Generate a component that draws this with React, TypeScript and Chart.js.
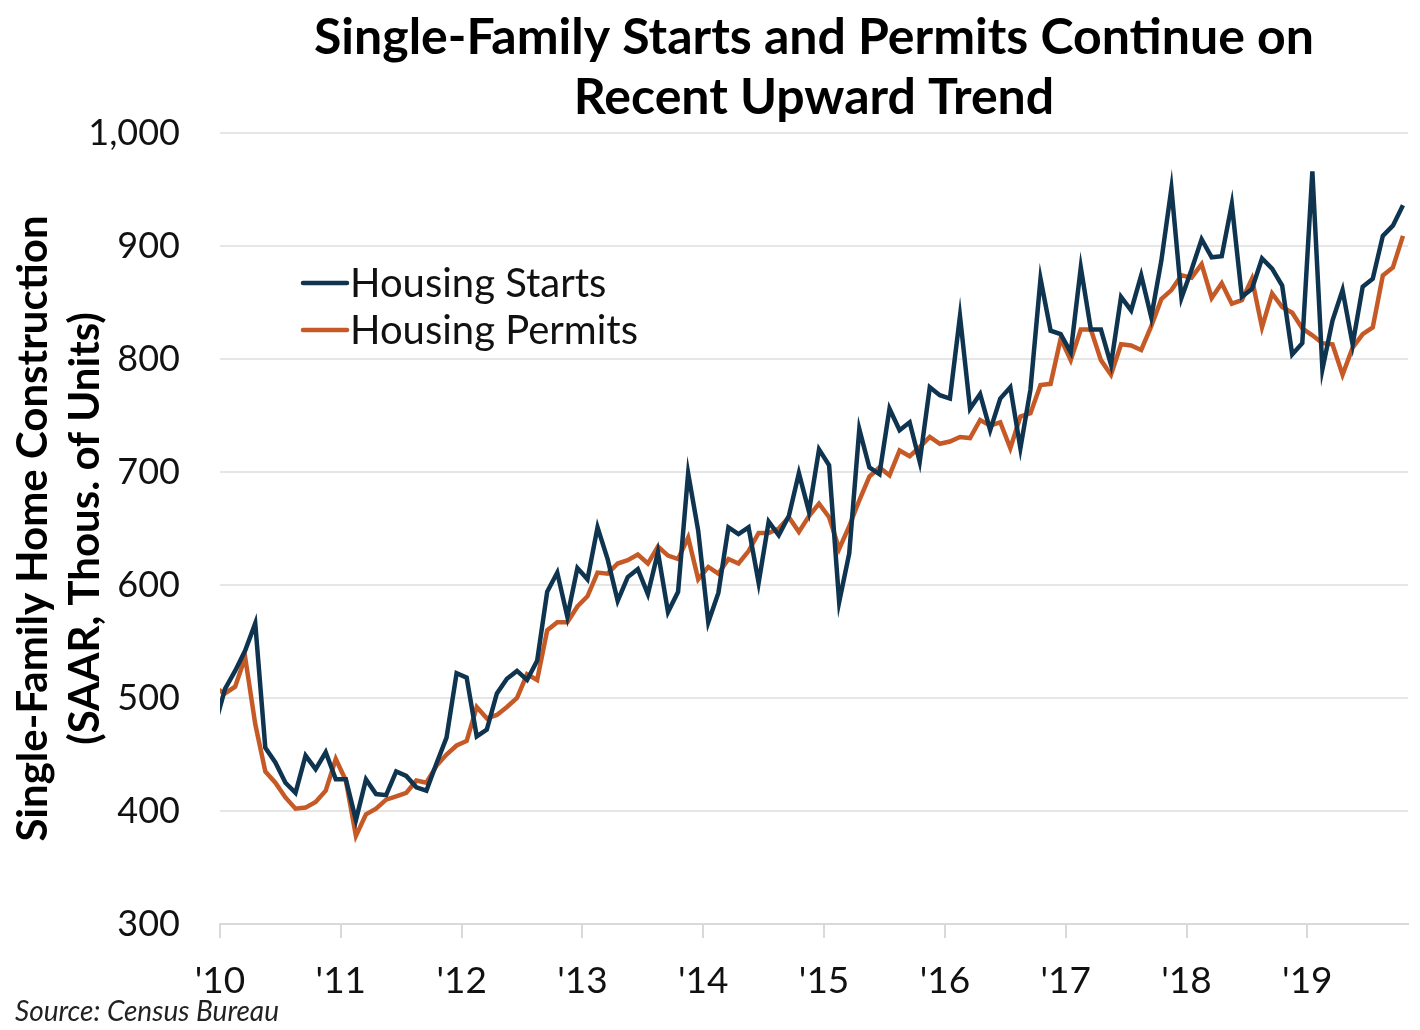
import { useEffect, useRef } from 'react';
import { Chart, registerables } from 'chart.js';

Chart.register(...registerables);

// Monthly data, Dec 2009 .. Oct 2019 (thousands of units, SAAR)
const firstMonthOffset = -1; // first value is Dec 2009 (month offset from Jan 2010)

const housingStarts = [
  476,
  508, 524, 542, 566, 456, 443, 425, 416, 449, 437, 452, 428,
  428, 392, 428, 415, 414, 435, 431, 421, 418, 442, 465, 522,
  518, 466, 472, 504, 517, 524, 516, 533, 594, 611, 572, 615,
  605, 651, 623, 586, 607, 614, 592, 629, 576, 594, 699, 648,
  567, 593, 651, 645, 651, 602, 656, 644, 661, 699, 665, 720,
  706, 585, 628, 738, 704, 698, 756, 737, 744, 709, 775, 768,
  765, 838, 756, 769, 737, 765, 775, 721, 773, 871, 825, 822,
  806, 881, 826, 826, 795, 855, 843, 874, 837, 887, 951, 854,
  879, 906, 890, 891, 937, 855, 862, 889, 880, 865, 804, 814,
  966, 791, 834, 861, 813, 864, 871, 909, 918, 936,
];

const housingPermits = [
  509,
  504, 510, 536, 477, 435, 425, 412, 402, 403, 408, 418, 446,
  427, 378, 397, 402, 410, 413, 416, 427, 425, 440, 450, 458,
  462, 492, 482, 485, 492, 500, 521, 516, 560, 567, 567, 581,
  590, 611, 610, 619, 622, 627, 619, 634, 626, 623, 642, 605,
  616, 610, 623, 619, 630, 646, 646, 650, 660, 647, 661, 672,
  660, 632, 652, 675, 696, 704, 697, 719, 714, 722, 731, 725,
  727, 731, 730, 746, 741, 744, 721, 749, 752, 777, 778, 818,
  799, 826, 826, 799, 786, 813, 812, 808, 829, 853, 861, 874,
  872, 884, 854, 867, 849, 852, 871, 828, 858, 846, 841, 827,
  821, 814, 813, 786, 810, 822, 828, 874, 881, 909,
];

const yearLabels = ["'10", "'11", "'12", "'13", "'14", "'15", "'16", "'17", "'18", "'19"];
const seriesNames = ['Housing Starts', 'Housing Permits'];
const seriesColors = ['#0e3450', '#c55a27'];
const titleLines = ['Single-Family Starts and Permits Continue on', 'Recent Upward Trend'];
const yTitleLines = ['Single-Family Home Construction', '(SAAR, Thous. of Units)'];
const sourceText = 'Source: Census Bureau';

const FONT = 'Lato, "Noto Sans", sans-serif';

const toPoints = (arr: number[]) =>
  arr.map((v, k) => ({ x: k + firstMonthOffset + 0.5, y: v }));

const decorPlugin = {
  id: 'decor',
  afterDraw(chart: any) {
    const { ctx, chartArea } = chart;
    ctx.save();
    // Title
    ctx.fillStyle = '#000';
    ctx.font = `bold 50px ${FONT}`;
    ctx.textAlign = 'center';
    ctx.textBaseline = 'alphabetic';
    const cx = (chartArea.left + chartArea.right) / 2;
    ctx.fillText(titleLines[0], cx, 54);
    ctx.fillText(titleLines[1], cx, 114);
    // Legend
    ctx.font = `40px ${FONT}`;
    ctx.textAlign = 'left';
    ctx.textBaseline = 'middle';
    seriesNames.forEach((name, i) => {
      const y = chartArea.top + 150 + i * 47;
      const x0 = chartArea.left + 83;
      ctx.strokeStyle = seriesColors[i];
      ctx.lineWidth = 4.5;
      ctx.lineCap = 'round';
      ctx.beginPath();
      ctx.moveTo(x0, y);
      ctx.lineTo(x0 + 44, y);
      ctx.stroke();
      ctx.fillStyle = '#111';
      ctx.fillText(name, x0 + 47, y + 1);
    });
    // Source
    ctx.font = `italic 28px ${FONT}`;
    ctx.textBaseline = 'alphabetic';
    ctx.fillStyle = '#222';
    ctx.fillText(sourceText, 15, 1021);
    ctx.restore();
  },
};

export default function App() {
  const canvasRef = useRef<HTMLCanvasElement | null>(null);

  useEffect(() => {
    document.body.style.margin = '0';
    const canvas = canvasRef.current;
    if (!canvas) return;
    const chart = new Chart(canvas, {
      type: 'line',
      data: {
        datasets: [
          {
            label: seriesNames[0],
            data: toPoints(housingStarts),
            borderColor: seriesColors[0],
            borderWidth: 4.5,
            pointRadius: 0,
            tension: 0,
            clip: 0,
          },
          {
            label: seriesNames[1],
            data: toPoints(housingPermits),
            borderColor: seriesColors[1],
            borderWidth: 4.5,
            pointRadius: 0,
            tension: 0,
            clip: 0,
          },
        ],
      },
      options: {
        animation: false,
        responsive: false,
        devicePixelRatio: 1,
        layout: { padding: { top: 133, right: 12, left: 0, bottom: 0 } },
        plugins: {
          legend: { display: false },
          title: { display: false },
          tooltip: { enabled: false },
        },
        scales: {
          x: {
            type: 'linear',
            min: 0,
            max: 118,
            afterFit(scale: any) {
              scale.height = 106;
            },
            afterBuildTicks(axis: any) {
              axis.ticks = yearLabels.map((_, k) => ({ value: k * 12 }));
            },
            ticks: {
              autoSkip: false,
              maxRotation: 0,
              padding: 21,
              color: '#111',
              font: { family: FONT, size: 37 },
              callback: (value: any) => yearLabels[Math.round(Number(value) / 12)] ?? '',
            },
            grid: {
              drawOnChartArea: false,
              drawTicks: true,
              tickLength: 14,
              color: '#d9d9d9',
              lineWidth: 2,
            },
            border: { display: true, color: '#d9d9d9', width: 2 },
          },
          y: {
            min: 300,
            max: 1000,
            afterFit(scale: any) {
              scale.width = 220;
            },
            ticks: {
              stepSize: 100,
              padding: 40,
              color: '#111',
              font: { family: FONT, size: 36 },
              callback: (value: any) => Number(value).toLocaleString('en-US'),
            },
            grid: { color: '#e6e6e6', lineWidth: 2, drawTicks: false },
            border: { display: false },
            title: {
              display: true,
              text: yTitleLines,
              color: '#000',
              font: { family: FONT, size: 42, weight: 'bold', lineHeight: 52 / 42 },
              padding: { top: 7, bottom: 0 },
            },
          },
        },
      },
      plugins: [decorPlugin],
    });
    return () => chart.destroy();
  }, []);

  return (
    <div style={{ width: 1420, height: 1030 }}>
      <canvas ref={canvasRef} width={1420} height={1030} style={{ display: 'block' }} />
    </div>
  );
}
